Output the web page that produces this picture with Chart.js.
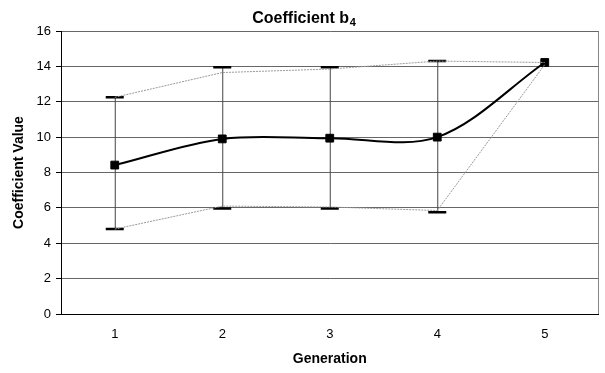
<!DOCTYPE html>
<html>
<head>
<meta charset="utf-8">
<script src="https://cdn.jsdelivr.net/npm/chart.js@4"></script>
<style>
  html, body { margin: 0; padding: 0; background: #fff; }
  #wrap { width: 605px; height: 373px; }
</style>
</head>
<body>
<div id="wrap"><canvas id="chart" width="605" height="373"></canvas></div>
<script>
// data
const generations = ["1", "2", "3", "4", "5"];
const meanValues = [8.42, 9.9, 9.94, 10.0, 14.22];
const upperCaps = [12.25, 13.95, 13.95, 14.3, null];
const lowerCaps = [4.8, 5.97, 5.97, 5.75, null];
const upperLine = [12.25, 13.65, 13.85, 14.3, 14.22];
const lowerLine = [4.8, 6.1, 6.05, 5.85, 14.1];

const FONT = "'Liberation Sans', Arial, sans-serif";

// error bars drawn from the cap arrays
const errorBars = {
    id: "errorBars",
    beforeDatasetsDraw(chart) {
        const ctx = chart.ctx;
        const xs = chart.scales.x;
        const ys = chart.scales.y;
        ctx.save();
        for (let i = 0; i < generations.length; i++) {
            if (upperCaps[i] == null || lowerCaps[i] == null) continue;
            const x = xs.getPixelForValue(i);
            const yTop = ys.getPixelForValue(upperCaps[i]);
            const yBot = ys.getPixelForValue(lowerCaps[i]);
            ctx.strokeStyle = "#444";
            ctx.lineWidth = 1;
            ctx.beginPath();
            ctx.moveTo(x + 0.5, yTop);
            ctx.lineTo(x + 0.5, yBot);
            ctx.stroke();
            ctx.strokeStyle = "#000";
            ctx.lineWidth = 2.5;
            ctx.beginPath();
            ctx.moveTo(x - 9, yTop);
            ctx.lineTo(x + 9, yTop);
            ctx.moveTo(x - 9, yBot);
            ctx.lineTo(x + 9, yBot);
            ctx.stroke();
        }
        ctx.restore();
    }
};

// right border of the plot area + title with subscript
const frame = {
    id: "frame",
    beforeDraw(chart) {
        const a = chart.chartArea;
        const ctx = chart.ctx;
        ctx.save();
        ctx.strokeStyle = "#888";
        ctx.lineWidth = 1;
        ctx.beginPath();
        ctx.moveTo(Math.round(a.right) - 0.5, a.top);
        ctx.lineTo(Math.round(a.right) - 0.5, a.bottom);
        ctx.stroke();
        ctx.restore();
    },
    afterDraw(chart) {
        const a = chart.chartArea;
        const ctx = chart.ctx;
        ctx.save();
        ctx.fillStyle = "#000";
        ctx.textBaseline = "alphabetic";
        ctx.font = "bold 16px " + FONT;
        const main = "Coefficient b";
        const sub = "4";
        const w1 = ctx.measureText(main).width;
        ctx.font = "bold 11px " + FONT;
        const w2 = ctx.measureText(sub).width;
        const cx = (a.left + a.right) / 2 - 26;
        const x0 = cx - (w1 + w2) / 2;
        ctx.font = "bold 16px " + FONT;
        ctx.fillText(main, x0, 22.5);
        ctx.font = "bold 11px " + FONT;
        ctx.fillText(sub, x0 + w1 + 0.5, 25.5);
        ctx.restore();
    }
};

new Chart(document.getElementById("chart").getContext("2d"), {
    type: "line",
    data: {
        labels: generations,
        datasets: [
            {
                label: "Upper",
                data: upperLine,
                borderColor: "#999",
                borderWidth: 1,
                borderDash: [2, 1],
                pointRadius: 0,
                tension: 0
            },
            {
                label: "Lower",
                data: lowerLine,
                borderColor: "#999",
                borderWidth: 1,
                borderDash: [2, 1],
                pointRadius: 0,
                tension: 0
            },
            {
                label: "Coefficient b4",
                data: meanValues,
                borderColor: "#000",
                borderWidth: 2,
                tension: 0.33,
                pointStyle: "rect",
                pointRadius: 5.5,
                pointBackgroundColor: "#000",
                pointBorderColor: "#000",
                pointBorderWidth: 1
            }
        ]
    },
    options: {
        responsive: false,
        animation: false,
        events: [],
        layout: { padding: { top: 31, right: 1, bottom: 0, left: 0 } },
        plugins: {
            legend: { display: false },
            title: { display: false },
            tooltip: { enabled: false }
        },
        scales: {
            x: {
                type: "category",
                offset: true,
                afterFit(scale) { scale.height = 59; },
                grid: { display: false, drawTicks: false },
                border: { display: true, color: "#000", width: 1 },
                ticks: { color: "#000", font: { family: FONT, size: 13 }, padding: 13 },
                title: {
                    display: true,
                    text: "Generation",
                    color: "#000",
                    font: { family: FONT, size: 14, weight: "bold" },
                    padding: { top: 4, bottom: 5 }
                }
            },
            y: {
                min: 0,
                max: 16,
                afterFit(scale) { scale.width = 61; },
                grid: { color: "#666", lineWidth: 1, tickLength: 5, tickColor: "#000" },
                border: { display: true, color: "#000", width: 1 },
                ticks: { stepSize: 2, color: "#000", font: { family: FONT, size: 13 }, padding: 5 },
                title: {
                    display: true,
                    text: "Coefficient Value",
                    color: "#000",
                    font: { family: FONT, size: 14, weight: "bold" },
                    padding: { top: 11, bottom: 0 }
                }
            }
        }
    },
    plugins: [errorBars, frame]
});
</script>
</body>
</html>
